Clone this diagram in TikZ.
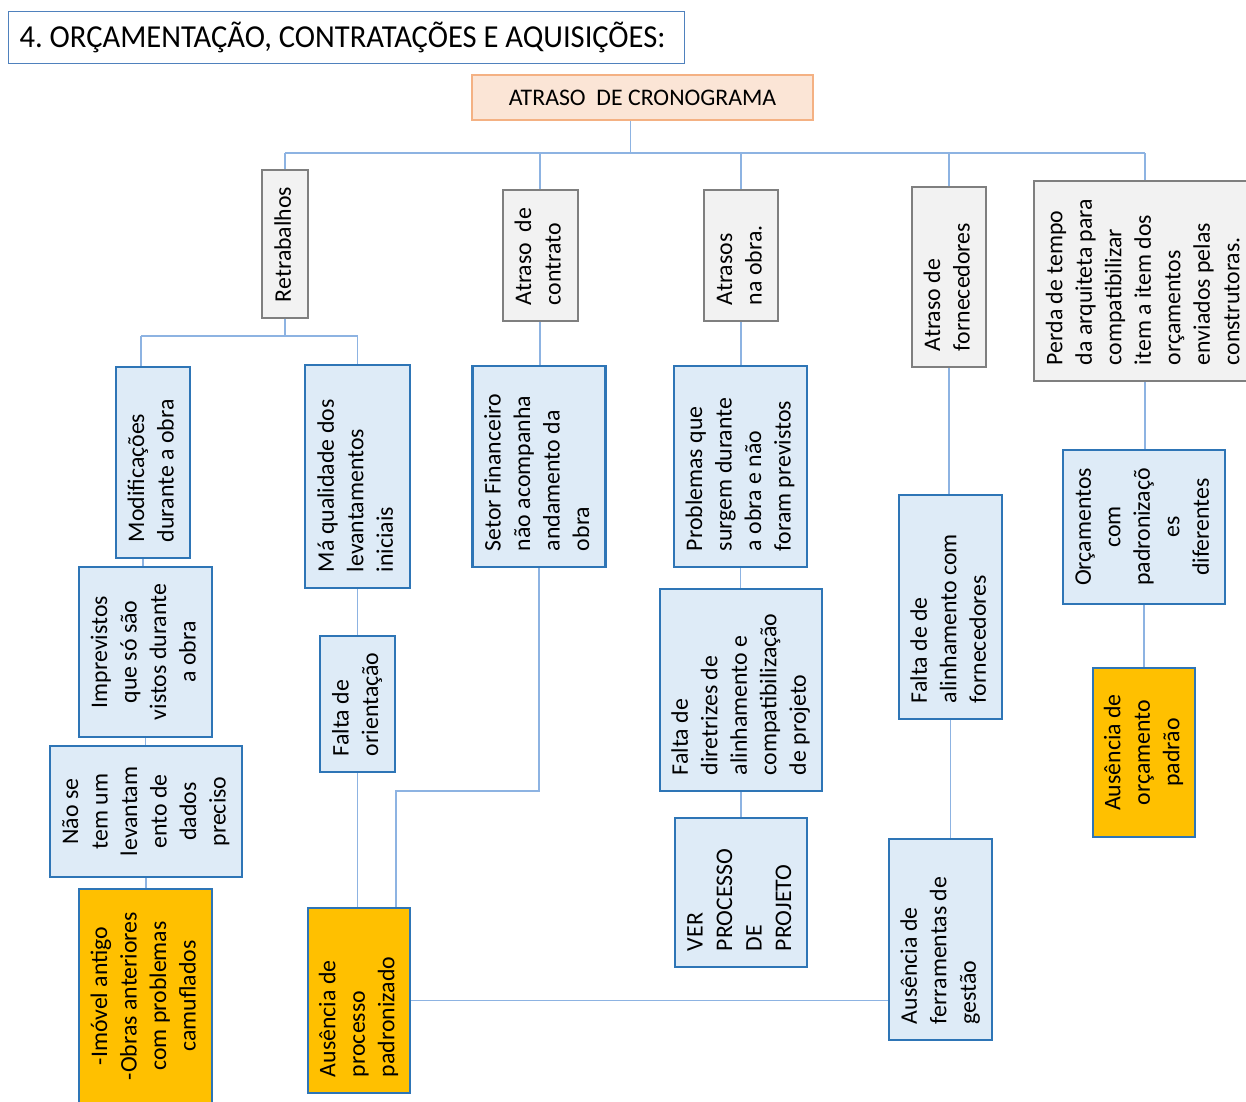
\documentclass[tikz,border=0pt]{standalone}
\usepackage{fontspec}
\setmainfont{Carlito}
\usepackage{graphicx}
\frenchspacing
\definecolor{grayfill}{HTML}{F2F2F2}
\definecolor{grayline}{HTML}{7F7F7F}
\definecolor{bluefill}{HTML}{DEEBF7}
\definecolor{blueline}{HTML}{2E75B6}
\definecolor{orangefill}{HTML}{FFC000}
\definecolor{rootfill}{HTML}{FBE5D6}
\definecolor{rootline}{HTML}{F4B183}
\definecolor{titleline}{HTML}{4F81BD}
\definecolor{connline}{HTML}{8DB3E2}
\def\boxh{100}
% text set bottom-to-top inside a box, 16pt in from the box ends
\newcommand{\vtext}[2][l]{\rotatebox{90}{\makebox[\dimexpr\boxh pt-32pt\relax][#1]{\begin{tabular}{@{}#1@{}}#2\end{tabular}}}}
\begin{document}
\begin{tikzpicture}[x=1pt,y=-1pt,
  base/.style={draw, inner sep=0pt, font=\fontsize{23.8}{29.5}\selectfont},
  cause/.style={base, draw=grayline, fill=grayfill, line width=2pt},
  sub/.style={base, draw=blueline, fill=bluefill, line width=2.4pt},
  key/.style={base, draw=blueline, fill=orangefill, line width=2.4pt},
  root/.style={base, draw=rootline, fill=rootfill, line width=2pt},
  conn/.style={draw=connline, line width=1.6pt},
  sz/.style 2 args={minimum width=#1pt, minimum height=#2pt, /utils/exec={\def\boxh{#2}}}
]
\useasboundingbox (0,0) rectangle (1246,1101);
\clip (0,0) rectangle (1246,1101);

% heading
\node[draw=titleline, line width=1.2pt, fill=white, anchor=north west,
      minimum width=676pt, minimum height=52pt, inner sep=0pt,
      font=\fontsize{32}{38}\selectfont]
      (title) at (8,11) {\makebox[676pt][l]{\hspace*{11pt}\resizebox{646pt}{\height}{4. ORÇAMENTAÇÃO, CONTRATAÇÕES E AQUISIÇÕES:}}};

% effect
\node[root, minimum width=341pt, minimum height=45pt] (top) at (642.5,97.5) {ATRASO\ \ DE CRONOGRAMA};

% first-level causes
\node[cause, sz={46}{148}] (retr) at (285,244) {\vtext{Retrabalhos}};
\node[cause, sz={75}{131}] (contr) at (540,255.5) {\vtext{Atraso\ \ de\\contrato}};
\node[cause, sz={74}{131}] (atobra) at (741,255.5) {\vtext{Atrasos\\na obra.}};
\node[cause, sz={74}{180}] (forn) at (949,277) {\vtext{Atraso de\\fornecedores}};
\node[cause, sz={222}{200}] (perda) at (1145,281) {\vtext{Perda de tempo\\da arquiteta para\\compatibilizar\\item a item dos\\orçamentos\\enviados pelas\\construtoras.}};

% second level
\node[sub, sz={74}{191}] (modif) at (153,462.5) {\vtext{Modificações\\durante a obra}};
\node[sub, sz={105}{223}] (maq) at (357.5,476.5) {\vtext{Má qualidade dos\\levantamentos\\iniciais}};
\node[sub, sz={133}{201}] (setor) at (539,466.5) {\vtext{Setor Financeiro\\não acompanha\\andamento da\\obra}};
\node[sub, sz={133}{201}] (prob) at (740.5,466.5) {\vtext{Problemas que\\surgem durante\\a obra e não\\foram previstos}};
\node[sub, sz={103}{224}] (faltaforn) at (950.5,607) {\vtext{Falta de de\\alinhamento com\\fornecedores}};
\node[sub, sz={162}{154}] (orcam) at (1144,527) {\vtext[c]{Orçamentos\\com\\padronizaçõ\\es\\diferentes}};

% deeper levels
\node[sub, sz={133}{170}] (impr) at (145.5,652) {\vtext[c]{Imprevistos\\que só são\\vistos durante\\a obra}};
\node[sub, sz={192}{131}] (naose) at (146,811.5) {\vtext[c]{Não se\\tem um\\levantam\\ento de\\dados\\preciso}};
\node[key, sz={133}{214}] (imovel) at (145.5,996) {\vtext[c]{-Imóvel antigo\\-Obras anteriores\\com problemas\\camuflados}};
\node[sub, sz={75}{136}] (faltaor) at (357.5,704) {\vtext{Falta de\\orientação}};
\node[key, sz={102}{185}] (ausproc) at (359,1000.5) {\vtext{Ausência de\\processo\\padronizado}};
\node[sub, sz={162}{202}] (diretr) at (741,690) {\vtext{Falta de\\diretrizes de\\alinhamento e\\compatibilização\\de projeto}};
\node[sub, sz={132}{149}] (ver) at (741,892.5) {\vtext{VER\\PROCESSO\\DE\\PROJETO}};
\node[sub, sz={103}{201}] (ausferr) at (940.5,939.5) {\vtext{Ausência de\\ferramentas de\\gestão}};
\node[key, sz={102}{169}] (ausorc) at (1144,752.5) {\vtext[c]{Ausência de\\orçamento\\padrão}};

% connectors
\coordinate (bus) at (0,153);
\coordinate (busr) at (0,336);
\coordinate (busf) at (0,791);
\draw[conn] ([xshift=-12pt]top.south) -- ([xshift=-12pt]top.south |- bus);
\draw[conn] (retr.north |- bus) -- (perda.north |- bus);
\foreach \n in {retr,contr,atobra,forn,perda}
  \draw[conn] (\n.north) -- (\n.north |- bus);

\draw[conn] (retr.south) -- (retr.south |- busr);
\draw[conn] ([xshift=-12pt]modif.north |- busr) -- (maq.north |- busr);
\draw[conn] ([xshift=-12pt]modif.north) -- ([xshift=-12pt]modif.north |- busr);
\draw[conn] (maq.north) -- (maq.north |- busr);

\draw[conn] ([xshift=-10pt]modif.south) -- ([xshift=-10pt]modif.south |- impr.north);
\draw[conn] (impr.south) -- (impr.south |- naose.north);
\draw[conn] (naose.south) -- (naose.south |- imovel.north);

\draw[conn] (maq.south) -- (maq.south |- faltaor.north);
\draw[conn] (faltaor.south) -- (faltaor.south |- ausproc.north);

\draw[conn] (contr.south) -- (contr.south |- setor.north);
\draw[conn] (setor.south) -- (setor.south |- busf)
            -- ([xshift=37pt]ausproc.north |- busf) -- ([xshift=37pt]ausproc.north);

\draw[conn] (ausproc.east) -- (ausproc.east -| ausferr.west);

\draw[conn] (atobra.south) -- (atobra.south |- prob.north);
\draw[conn] (prob.south) -- (prob.south |- diretr.north);
\draw[conn] (diretr.south) -- (diretr.south |- ver.north);

\draw[conn] (forn.south) -- (forn.south |- faltaforn.north);
\draw[conn] (faltaforn.south) -- (faltaforn.south |- ausferr.north);

\draw[conn] (perda.south) -- (perda.south |- orcam.north);
\draw[conn] (orcam.south) -- (orcam.south |- ausorc.north);
\end{tikzpicture}
\end{document}
